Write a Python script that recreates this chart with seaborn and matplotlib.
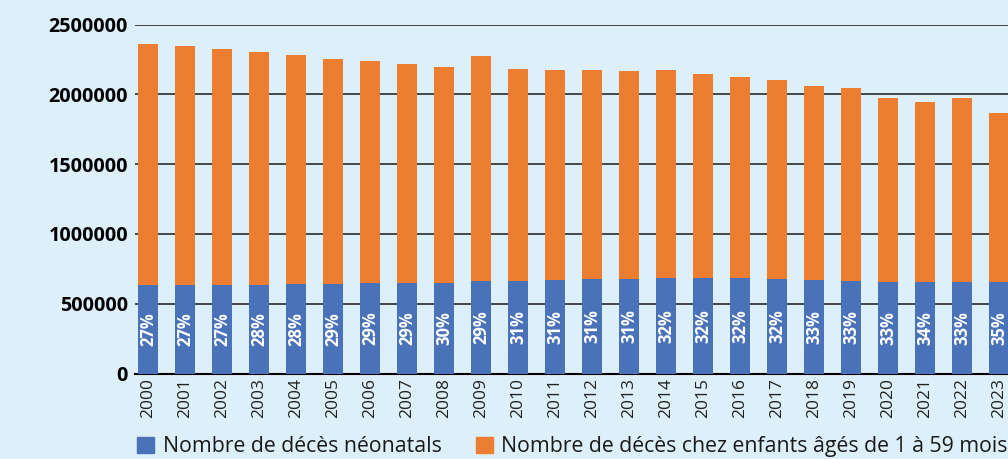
import numpy as np
import matplotlib
matplotlib.use("Agg")
import matplotlib.pyplot as plt
from matplotlib.patches import Patch
import seaborn as sns

years = [str(y) for y in range(2000, 2024)]

# neonatal deaths and deaths of children aged 1-59 months
neonatal = [634000, 634000, 634000, 634000, 641000, 641000, 649000, 649000,
            649000, 663000, 663000, 670000, 677000, 677000, 684000, 684000,
            684000, 677000, 670000, 663000, 656000, 656000, 656000, 656000]
child_1_59 = [1728000, 1713000, 1692000, 1670000, 1642000, 1613000, 1591000,
              1569000, 1548000, 1613000, 1519000, 1505000, 1498000, 1491000,
              1491000, 1463000, 1441000, 1427000, 1391000, 1383000, 1319000,
              1290000, 1319000, 1211000]
pct_labels = ["27%", "27%", "27%", "28%", "28%", "29%", "29%", "29%", "30%",
              "29%", "31%", "31%", "31%", "31%", "32%", "32%", "32%", "32%",
              "33%", "33%", "33%", "34%", "33%", "35%"]

blue = "#4A72B8"
orange = "#ED7D31"
bg = "#DDEFF8"

sns.set_style("white")
plt.rcParams["font.family"] = ["Open Sans", "DejaVu Sans"]

fig = plt.figure(figsize=(10.08, 4.59), dpi=100, facecolor=bg)
ax = fig.add_axes([135 / 1008, 85.5 / 459, 873 / 1008, 348.8 / 459])
ax.set_facecolor(bg)

total = np.array(neonatal) + np.array(child_1_59)

sns.barplot(x=years, y=total, color=orange, width=0.54, saturation=1,
            linewidth=0, ax=ax, zorder=2)
sns.barplot(x=years, y=neonatal, color=blue, width=0.54, saturation=1,
            linewidth=0, ax=ax, zorder=3)

for i, lab in enumerate(pct_labels):
    ax.text(i, neonatal[i] / 2, lab, rotation=90, ha="center", va="center",
            color="white", fontsize=12, fontweight="bold", zorder=4)

ax.set_ylim(0, 2500000)
ax.set_xlim(-0.35, 23.24)
ax.set_yticks([0, 500000, 1000000, 1500000, 2000000, 2500000])
ax.set_yticklabels(["0", "500000", "1000000", "1500000", "2000000", "2500000"],
                   fontsize=14.3, fontweight="bold", color="black")
ax.tick_params(axis="y", length=0, pad=5)
ax.tick_params(axis="x", length=0, pad=3, labelsize=12.5, labelcolor="#222222")
for lab in ax.get_xticklabels():
    lab.set_rotation(90)
ax.set_xlabel("")
ax.set_ylabel("")

ax.yaxis.grid(True, color="#2b2b2b", linewidth=1.2, zorder=0)
ax.set_axisbelow(True)
for side in ["left", "right", "top"]:
    ax.spines[side].set_visible(False)
ax.spines["bottom"].set_color("black")
ax.spines["bottom"].set_linewidth(1.5)

handles = [Patch(color=blue, label="Nombre de décès néonatals"),
           Patch(color=orange, label="Nombre de décès chez enfants âgés de 1 à 59 mois")]
fig.legend(handles=handles, loc="lower left", bbox_to_anchor=(118 / 1008, -0.038),
           ncol=2, frameon=False, fontsize=15.3, handlelength=0.8,
           handleheight=0.8, handletextpad=0.4, columnspacing=1.6,
           labelcolor="#1a1a1a")

fig.savefig("out.png", dpi=100, facecolor=bg)
